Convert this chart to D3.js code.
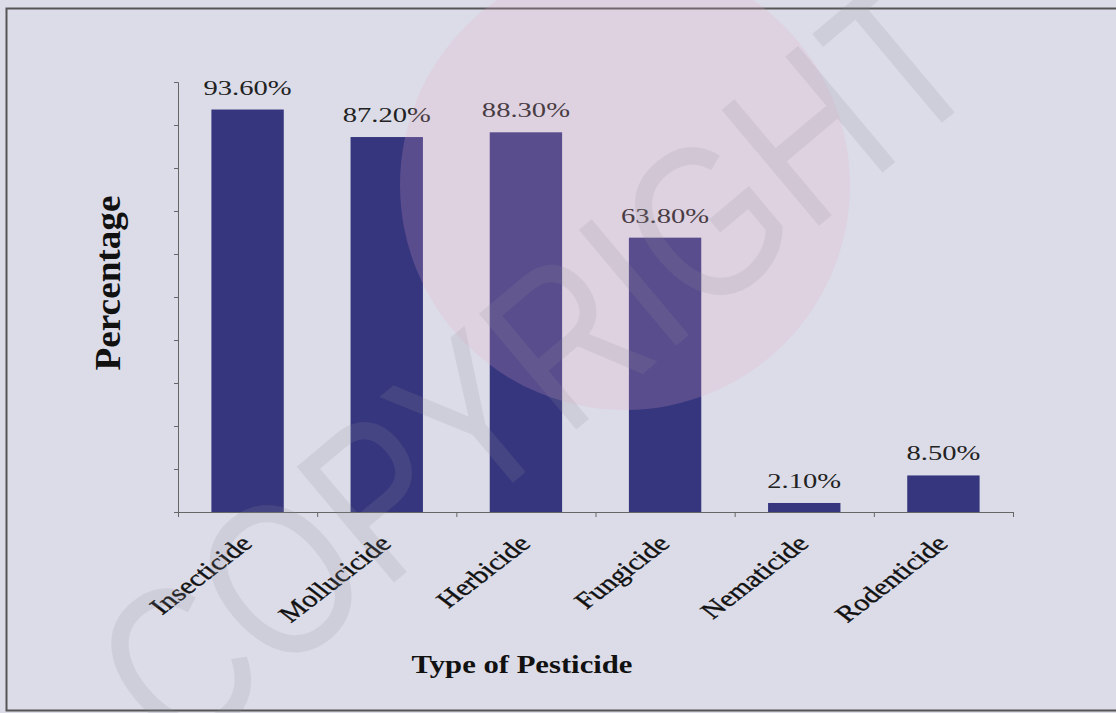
<!DOCTYPE html>
<html>
<head>
<meta charset="utf-8">
<script src="https://cdn.jsdelivr.net/npm/d3@7"></script>
<style>
  body { margin: 0; background: #dcdce8; }
  svg { display: block; }
</style>
</head>
<body>
<div id="chart"></div>
<script>
// data
var categories = ["Insecticide", "Mollucicide", "Herbicide", "Fungicide", "Nematicide", "Rodenticide"];
var percentages = [93.6, 87.2, 88.3, 63.8, 2.1, 8.5];
var valueLabels = ["93.60%", "87.20%", "88.30%", "63.80%", "2.10%", "8.50%"];

var W = 1116, H = 713;
var margin = {top: 82, left: 178, right: 103, bottom: 201};
var width = W - margin.left - margin.right,
    height = H - margin.top - margin.bottom;

var svg = d3.select("#chart").append("svg")
    .attr("width", W)
    .attr("height", H);

// background + frame
svg.append("rect")
    .attr("width", W).attr("height", H)
    .attr("fill", "#dcdce8");
svg.append("rect")
    .attr("x", 6.5).attr("y", 8.5)
    .attr("width", W + 20).attr("height", 702)
    .attr("fill", "none")
    .attr("stroke", "#555")
    .attr("stroke-width", 2);

var g = svg.append("g")
    .attr("transform", "translate(" + margin.left + "," + margin.top + ")");

var x = d3.scaleBand().domain(categories).range([0, width]).paddingInner(0.48).paddingOuter(0.24);
var xEdge = d3.scaleLinear().domain([0, categories.length]).range([0, width]);
var y = d3.scaleLinear().domain([0, 100]).range([height, 0]);

// y axis: tick marks only
var yAxis = g.append("g")
    .call(d3.axisLeft(y).ticks(10).tickSize(4).tickFormat(""));
yAxis.selectAll("path, line").attr("stroke", "#666");

// bars
g.selectAll(".bar")
  .data(percentages)
  .enter().append("rect")
    .attr("class", "bar")
    .attr("x", function(d, i) { return x(categories[i]); })
    .attr("y", function(d) { return y(d); })
    .attr("width", x.bandwidth())
    .attr("height", function(d) { return height - y(d); })
    .attr("fill", "#36367f");

// x axis: ticks between categories
var xAxis = g.append("g")
    .attr("transform", "translate(0," + height + ")")
    .call(d3.axisBottom(xEdge).ticks(6).tickSize(5).tickFormat(""));
xAxis.selectAll("path, line").attr("stroke", "#666");

// watermark (faint, drawn over the bars like the scan)
var wm = svg.append("g").attr("pointer-events", "none");
wm.append("circle")
    .attr("cx", 625).attr("cy", 185).attr("r", 225)
    .attr("fill", "#e8a8c8")
    .attr("opacity", 0.2);
wm.append("text")
    .attr("transform", "translate(535,365) rotate(-40)")
    .attr("text-anchor", "middle")
    .attr("dominant-baseline", "central")
    .attr("textLength", 1060)
    .attr("lengthAdjust", "spacingAndGlyphs")
    .style("font-family", "'Liberation Sans', sans-serif")
    .style("font-size", "220px")
    .attr("fill", "#8f8f99")
    .attr("opacity", 0.17)
    .text("COPYRIGHT");

// value labels
g.selectAll(".val")
  .data(percentages)
  .enter().append("text")
    .attr("class", "val")
    .attr("transform", function(d, i) {
      return "translate(" + (x(categories[i]) + x.bandwidth() / 2) + "," + (y(d) - 15) + ") scale(1.3,1)";
    })
    .attr("text-anchor", "middle")
    .style("font-family", "'Liberation Serif', serif")
    .style("font-size", "22px")
    .attr("fill", "#222")
    .text(function(d, i) { return valueLabels[i]; });

// category labels, slanted
g.selectAll(".cat")
  .data(categories)
  .enter().append("text")
    .attr("class", "cat")
    .attr("transform", function(d) {
      return "translate(" + (x(d) + x.bandwidth() / 2 + 6) + "," + (height + 33) + ") scale(1.3,1) rotate(-45)";
    })
    .attr("text-anchor", "end")
    .style("font-family", "'Liberation Serif', serif")
    .style("font-size", "23px")
    .attr("fill", "#111")
    .attr("stroke", "#111")
    .attr("stroke-width", 0.4)
    .text(function(d) { return d; });

// axis titles
svg.append("text")
    .attr("transform", "translate(120,283) scale(1.25,1) rotate(-90)")
    .attr("text-anchor", "middle")
    .attr("textLength", 175)
    .attr("lengthAdjust", "spacingAndGlyphs")
    .style("font-family", "'Liberation Serif', serif")
    .style("font-weight", "bold")
    .style("font-size", "29px")
    .attr("fill", "#111")
    .text("Percentage");

svg.append("text")
    .attr("transform", "translate(522,673) scale(1.18,1)")
    .attr("text-anchor", "middle")
    .style("font-family", "'Liberation Serif', serif")
    .style("font-weight", "bold")
    .style("font-size", "26px")
    .attr("fill", "#111")
    .text("Type of Pesticide");
</script>
</body>
</html>
